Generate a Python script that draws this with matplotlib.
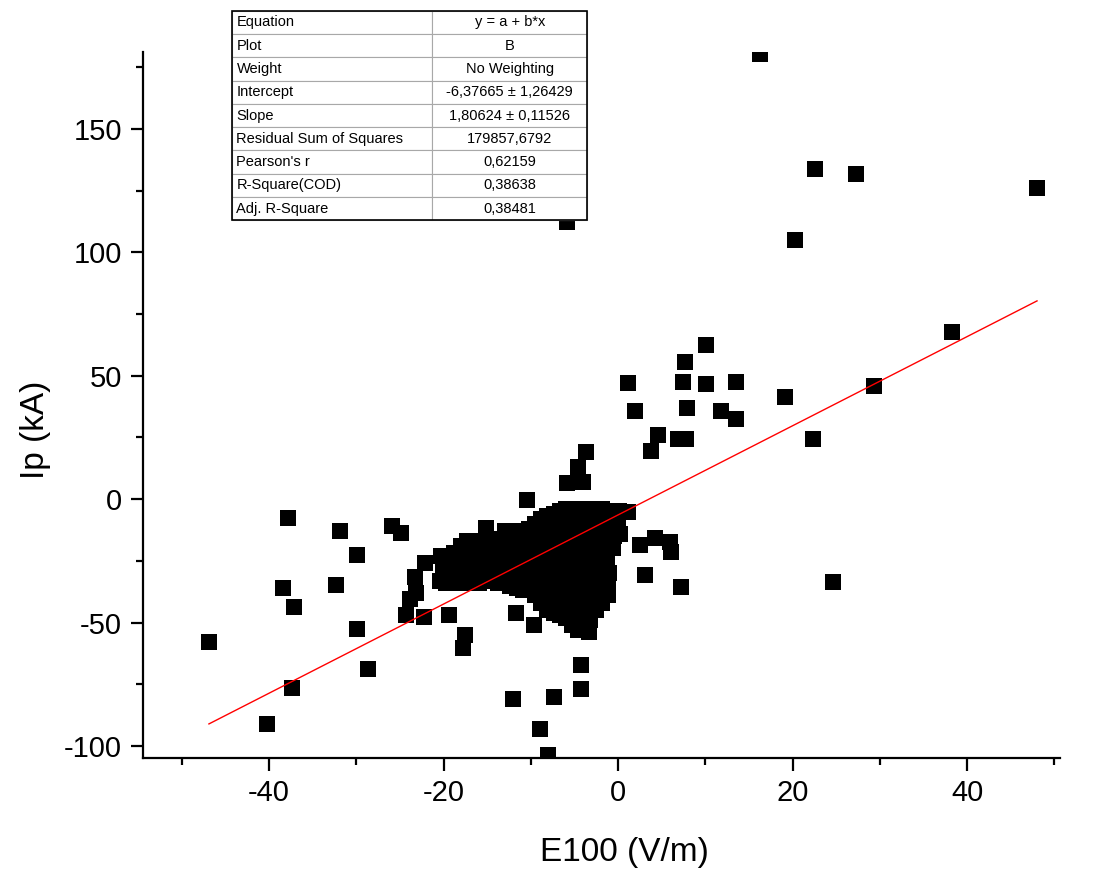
import numpy as np
import matplotlib
matplotlib.use("Agg")
import matplotlib.pyplot as plt
from matplotlib.patches import Rectangle
from matplotlib.ticker import MultipleLocator

plt.rcParams['font.family'] = ['Liberation Sans', 'DejaVu Sans']
plt.rcParams['axes.unicode_minus'] = False

# E100 (V/m) / Ip (kA) pairs
# scattered points, outside the dense cluster
e100_out = [-46.9, -40.3, -37.8, -38.4, -37.1, -37.4, -31.9, -32.3, -29.9, -29.9,
            -28.7, -25.9, -24.9, -22.1, -23.3, -23.2, -23.8, -24.3, -22.3, -19.4,
            -17.5, -17.8, -15.2, -10.4, -11.7, -9.6, -3.3, -4.3, -4.3, -7.3,
            -12.0, -9.0, -8.0, -3.7, -4.6, -4.0, -5.9, -5.9, 1.1, 2.5,
            4.2, 5.9, 6.1, 3.1, 7.2, 24.6, 3.8, 4.6, 6.9, 7.8,
            22.3, 1.9, 7.9, 11.8, 13.5, 19.1, 1.1, 7.4, 10.1, 13.5,
            7.7, 10.1, 29.3, 38.2, 20.3, 48.0, 27.2, 22.6, 16.3]
ip_out = [-57.8, -91.0, -7.7, -36.0, -43.7, -76.5, -12.9, -34.8, -22.7, -52.6,
          -68.8, -10.9, -13.8, -25.9, -31.6, -38.0, -40.5, -46.9, -47.7, -46.9,
          -55.0, -60.3, -11.7, -0.4, -46.1, -51.0, -53.8, -67.2, -76.9, -80.1,
          -80.9, -93.0, -103.6, 19.0, 12.9, 6.9, 6.5, 112.1, -5.3, -18.6,
          -15.8, -17.4, -21.4, -30.7, -35.6, -33.6, 19.4, 25.9, 24.3, 24.3,
          24.3, 35.6, 36.8, 35.6, 32.4, 41.3, 46.9, 47.3, 46.5, 47.3,
          55.4, 62.3, 45.7, 67.6, 104.8, 126.2, 131.9, 133.9, 180.4]

# dense cluster around E100 -20..0
e100_blob = [-20.3, -20.1, -20.4,
             -19.6, -19.5, -19.7,
             -18.8, -18.9, -18.7, -18.8,
             -18.0, -18.1, -17.9, -18.0,
             -17.3, -17.2, -17.4, -17.3,
             -16.6, -16.7, -16.5,
             -15.9, -16.0, -15.8, -15.9, -16.0,
             -15.2, -15.3, -15.1, -15.2, -15.3,
             -14.5, -14.6, -14.4, -14.5,
             -13.7, -13.8, -13.6, -13.7, -13.8,
             -13.0, -13.1, -12.9, -13.0, -13.1,
             -12.3, -12.4, -12.2, -12.3, -12.4,
             -11.6, -11.7, -11.5, -11.6, -11.7, -11.6,
             -10.9, -11.0, -10.8, -10.9, -11.0, -10.9,
             -10.2, -10.3, -10.1, -10.2, -10.3, -10.2,
             -9.5, -9.6, -9.4, -9.5, -9.6, -9.4, -9.5,
             -8.8, -8.9, -8.7, -8.8, -8.9, -8.7, -8.8, -8.9,
             -8.1, -8.2, -8.0, -8.1, -8.2, -8.0, -8.1, -8.2, -8.1,
             -7.4, -7.5, -7.3, -7.4, -7.5, -7.3, -7.4, -7.5, -7.4,
             -6.7, -6.8, -6.6, -6.7, -6.8, -6.6, -6.7, -6.8, -6.6, -6.7,
             -6.0, -6.1, -5.9, -6.0, -6.1, -5.9, -6.0, -6.1, -5.9, -6.0,
             -5.3, -5.4, -5.2, -5.3, -5.4, -5.2, -5.3, -5.4, -5.2, -5.3, -5.3,
             -4.6, -4.7, -4.5, -4.6, -4.7, -4.5, -4.6, -4.7, -4.5, -4.6, -4.6,
             -3.9, -4.0, -3.8, -3.9, -4.0, -3.8, -3.9, -4.0, -3.8, -3.9, -3.9,
             -3.2, -3.3, -3.1, -3.2, -3.3, -3.1, -3.2, -3.3, -3.1, -3.2,
             -2.5, -2.6, -2.4, -2.5, -2.6, -2.4, -2.5, -2.6, -2.5,
             -1.8, -1.9, -1.7, -1.8, -1.9, -1.7, -1.8, -1.9, -1.8,
             -1.2, -1.3, -1.1, -1.2, -1.3, -1.1, -1.2, -1.2,
             -0.6, -0.7, -0.5, -0.6,
             0.1, 0.0, 0.2]
ip_blob = [-23.0, -28.0, -33.0,
           -25.0, -30.0, -34.0,
           -22.0, -27.0, -31.0, -34.0,
           -19.0, -24.0, -29.0, -33.0,
           -17.0, -21.0, -30.0, -34.0,
           -20.0, -25.0, -32.0,
           -17.0, -22.0, -27.0, -31.0, -34.0,
           -15.0, -20.0, -25.0, -30.0, -33.0,
           -19.0, -24.0, -29.0, -33.0,
           -16.0, -21.0, -26.0, -31.0, -34.0,
           -13.0, -18.0, -23.0, -28.0, -32.0,
           -15.0, -20.0, -25.0, -30.0, -35.0,
           -13.0, -17.0, -22.0, -27.0, -32.0, -36.0,
           -14.0, -19.0, -24.0, -29.0, -34.0, -37.0,
           -12.0, -16.0, -21.0, -26.0, -31.0, -36.0,
           -10.0, -15.0, -20.0, -25.0, -30.0, -35.0, -39.0,
           -8.0, -13.0, -18.0, -23.0, -28.0, -33.0, -38.0, -42.0,
           -7.0, -12.0, -17.0, -22.0, -27.0, -32.0, -37.0, -42.0, -45.0,
           -6.0, -11.0, -16.0, -21.0, -26.0, -31.0, -36.0, -41.0, -46.0,
           -5.0, -10.0, -15.0, -20.0, -25.0, -30.0, -35.0, -40.0, -45.0, -47.0,
           -4.0, -9.0, -14.0, -19.0, -24.0, -29.0, -34.0, -39.0, -44.0, -48.0,
           -4.0, -8.0, -13.0, -18.0, -23.0, -28.0, -33.0, -38.0, -43.0, -48.0, -51.0,
           -4.0, -9.0, -14.0, -19.0, -24.0, -29.0, -34.0, -39.0, -44.0, -49.0, -53.0,
           -4.0, -8.0, -13.0, -18.0, -23.0, -28.0, -33.0, -38.0, -43.0, -48.0, -52.0,
           -4.0, -9.0, -14.0, -19.0, -24.0, -29.0, -34.0, -39.0, -44.0, -49.0,
           -5.0, -10.0, -15.0, -20.0, -25.0, -30.0, -35.0, -40.0, -45.0,
           -4.0, -9.0, -14.0, -19.0, -24.0, -29.0, -34.0, -39.0, -42.0,
           -5.0, -10.0, -15.0, -20.0, -25.0, -30.0, -35.0, -39.0,
           -5.0, -10.0, -15.0, -20.0,
           -5.0, -9.0, -14.0]

# linear fit results (Origin table)
intercept = -6.37665
slope = 1.80624
stat_names = ["Equation", "Plot", "Weight", "Intercept", "Slope",
              "Residual Sum of Squares", "Pearson's r", "R-Square(COD)", "Adj. R-Square"]
stat_values = ["y = a + b*x", "B", "No Weighting", "-6,37665 \u00b1 1,26429",
               "1,80624 \u00b1 0,11526", "179857,6792", "0,62159", "0,38638", "0,38481"]

e100 = np.array(e100_out + e100_blob)
ip = np.array(ip_out + ip_blob)

fig = plt.figure(figsize=(10.97, 8.74), dpi=100)
ax = fig.add_axes([0.130, 0.133, 0.836, 0.807])

ax.plot(e100, ip, 's', color='black', markersize=12, markeredgewidth=0, zorder=2)

# fitted line over the data range
xfit = np.array([e100.min(), e100.max()])
ax.plot(xfit, intercept + slope * xfit, color='red', linewidth=1.0, zorder=3)

ax.set_xlim(-54.5, 50.6)
ax.set_ylim(-104.8, 181)
ax.xaxis.set_major_locator(MultipleLocator(20))
ax.xaxis.set_minor_locator(MultipleLocator(10))
ax.yaxis.set_major_locator(MultipleLocator(50))
ax.yaxis.set_minor_locator(MultipleLocator(25))

for s in ['top', 'right']:
    ax.spines[s].set_visible(False)
for s in ['left', 'bottom']:
    ax.spines[s].set_linewidth(1.6)

ax.tick_params(which='major', direction='out', length=9, width=1.6, labelsize=21, pad=6)
ax.tick_params(which='minor', direction='out', length=5, width=1.6)

ax.set_xlabel('E100 (V/m)', fontsize=24)
ax.set_ylabel('Ip (kA)', fontsize=24)
ax.xaxis.set_label_coords(0.525, -0.112)
ax.yaxis.set_label_coords(-0.100, 0.465)

# fit summary table
cells = [[n, v] for n, v in zip(stat_names, stat_values)]
tbl_box = [0.098, 0.762, 0.387, 0.297]
tbl = ax.table(cellText=cells, colWidths=[0.563, 0.437], bbox=tbl_box)
tbl.auto_set_font_size(False)
tbl.set_fontsize(10.5)
for (r, c), cell in tbl.get_celld().items():
    cell.set_edgecolor('#a8a8a8')
    cell.set_linewidth(0.8)
    cell.get_text().set_ha('left' if c == 0 else 'center')
    cell.PAD = 0.02
tbl.set_clip_on(False)
tbl.set_zorder(5)
ax.add_patch(Rectangle((tbl_box[0], tbl_box[1]), tbl_box[2], tbl_box[3],
                       transform=ax.transAxes, fill=False, edgecolor='black',
                       linewidth=1.2, clip_on=False, zorder=6))

fig.savefig('out.png', dpi=100)
